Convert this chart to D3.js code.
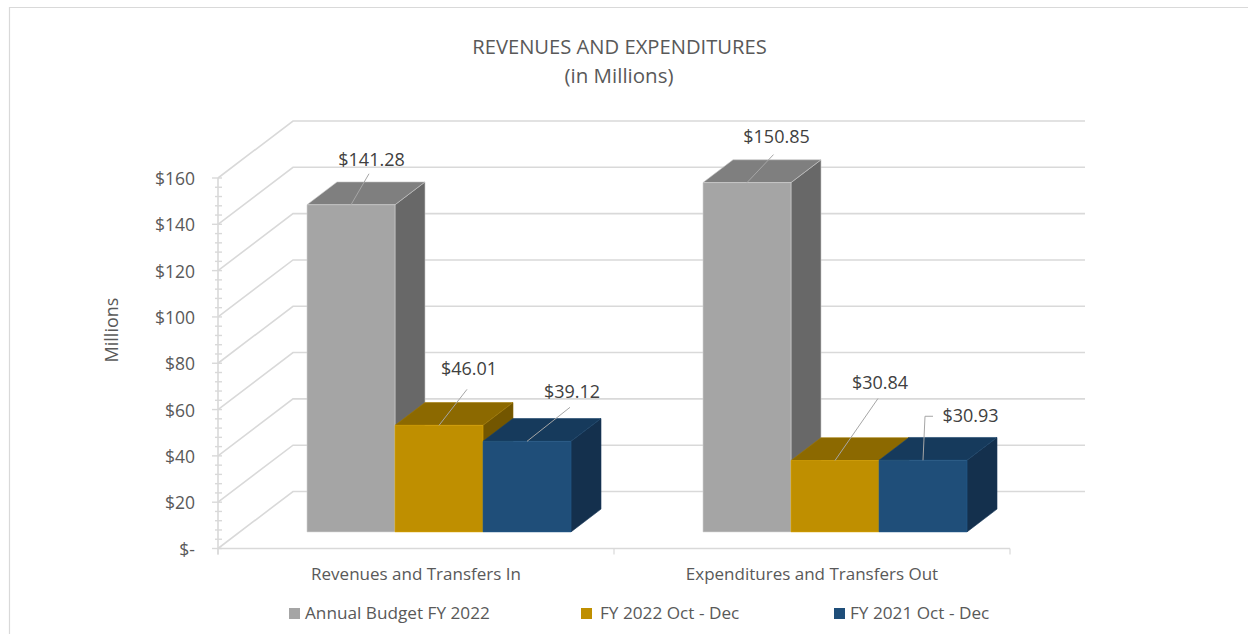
<!DOCTYPE html>
<html>
<head>
<meta charset="utf-8" />
<title>Revenues and Expenditures</title>
<script src="https://d3js.org/d3.v7.min.js"></script>
<style>
	html, body { margin: 0; padding: 0; background: #fff; }
	svg { display: block; }
	text { font-family: "Open Sans", "Noto Sans", sans-serif; fill: #595959; }
</style>
</head>
<body>
<div id="chart"></div>
<script>
const categories = ["Revenues and Transfers In", "Expenditures and Transfers Out"];
const seriesNames = ["Annual Budget FY 2022", "FY 2022 Oct - Dec", "FY 2021 Oct - Dec"];
const annualBudget = [141.28, 150.85];
const fy2022 = [46.01, 30.84];
const fy2021 = [39.12, 30.93];
const yTicks = [0, 20, 40, 60, 80, 100, 120, 140, 160];
const minorStep = 4;

const width = 1248, height = 634;
const svg = d3.select("#chart").append("svg")
	.attr("width", width)
	.attr("height", height)
	.attr("viewBox", "0 0 " + width + " " + height);

const grid = "#d9d9d9";

// outer frame, open at the bottom and right
svg.append("path")
	.attr("d", "M9.5,634V7.5H1248")
	.attr("fill", "none").attr("stroke", grid).attr("stroke-width", 1.2);

// title
svg.append("text").attr("x", 619.5).attr("y", 54).attr("text-anchor", "middle")
	.attr("font-size", 20.2).text("REVENUES AND EXPENDITURES");
svg.append("text").attr("x", 619).attr("y", 83).attr("text-anchor", "middle")
	.attr("font-size", 20.5).text("(in Millions)");

// front plane scales
const y = d3.scaleLinear().domain([0, 160]).range([548.5, 178]);
const x0 = d3.scaleBand().domain(categories).range([218, 1010]);
const x1 = d3.scaleBand().domain(seriesNames).range([0, 264]);
const inset = (x0.bandwidth() - x1.range()[1]) / 2;

// oblique projection for the depth of the chart
const depthX = 75, depthY = -57;
const barFront = 0.3, barBack = 0.7;
const barNudge = 0.5;
const dx = t => depthX * t, dy = t => depthY * t;

// wall and gridlines
svg.append("g").selectAll("path").data(yTicks).enter().append("path")
	.attr("fill", "none").attr("stroke", grid).attr("stroke-width", 1.6)
	.attr("d", d => "M" + x0.range()[0] + "," + y(d)
		+ "L" + (x0.range()[0] + depthX) + "," + (y(d) + depthY)
		+ "H" + (x0.range()[1] + depthX));

// value axis line and ticks
const axisX = x0.range()[0];
const axisG = svg.append("g").attr("stroke", grid);
axisG.append("line").attr("x1", axisX).attr("x2", axisX)
	.attr("y1", y(160)).attr("y2", y(0) + 6).attr("stroke-width", 1.6);
axisG.selectAll(".minor").data(d3.range(0, 160 + minorStep, minorStep)).enter().append("line")
	.attr("x1", d => axisX - (d % 20 === 0 ? 6 : 3))
	.attr("x2", axisX + 4)
	.attr("y1", d => y(d)).attr("y2", d => y(d))
	.attr("stroke-width", 1.4);

// category axis
axisG.append("line").attr("x1", x0.range()[0]).attr("x2", x0.range()[1])
	.attr("y1", y(0)).attr("y2", y(0)).attr("stroke-width", 1.6);
axisG.selectAll(".cat").data([x0.range()[0], x0.range()[0] + x0.step(), x0.range()[1]]).enter().append("line")
	.attr("x1", d => d).attr("x2", d => d)
	.attr("y1", y(0)).attr("y2", y(0) + 6).attr("stroke-width", 1.2);

// axis labels
svg.append("g").selectAll("text").data(yTicks).enter().append("text")
	.attr("x", 195).attr("y", d => y(d) + 7).attr("text-anchor", "end")
	.attr("font-size", 17.5)
	.text(d => d === 0 ? "$-" : "$" + d);
svg.append("g").selectAll("text").data(categories).enter().append("text")
	.attr("x", d => x0(d) + x0.bandwidth() / 2).attr("y", 580).attr("text-anchor", "middle")
	.attr("font-size", 17).text(d => d);
svg.append("text")
	.attr("transform", "translate(118,330) rotate(-90)")
	.attr("text-anchor", "middle").attr("font-size", 18).text("Millions");

// bars
const colors = d3.scaleOrdinal().domain(seriesNames).range(["#a5a5a5", "#bf8f00", "#1f4e79"]);
const topColors = d3.scaleOrdinal().domain(seriesNames).range(["#7f7f7f", "#8c6900", "#163a5c"]);
const sideColors = d3.scaleOrdinal().domain(seriesNames).range(["#686868", "#735600", "#14304d"]);
const seriesValues = [annualBudget, fy2022, fy2021];

const bars = [];
categories.forEach((c, ci) => {
	seriesNames.forEach((s, si) => {
		bars.push({ series: s, category: c, value: seriesValues[si][ci], ci: ci, si: si });
	});
});

function poly(points) {
	return "M" + points.map(p => p.join(",")).join("L") + "Z";
}

const barG = svg.append("g").selectAll("g").data(bars).enter().append("g");
const barLeft = d => x0(d.category) + inset + x1(d.series) + dx(barFront) + barNudge;
const barRight = d => barLeft(d) + x1.bandwidth();
const barBase = y(0) + dy(barFront) + barNudge;
const barTop = d => y(d.value) + dy(barFront) + barNudge;
const ddx = dx(barBack - barFront), ddy = dy(barBack - barFront);

barG.append("path").attr("fill", d => sideColors(d.series))
	.attr("stroke", d => d.si === 0 ? "#c8c8c8" : d3.color(sideColors(d.series)).brighter(0.4)).attr("stroke-width", 0.6)
	.attr("d", d => poly([[barRight(d), barBase], [barRight(d) + ddx, barBase + ddy], [barRight(d) + ddx, barTop(d) + ddy], [barRight(d), barTop(d)]]));
barG.append("path").attr("fill", d => topColors(d.series))
	.attr("stroke", d => d.si === 0 ? "#c8c8c8" : d3.color(topColors(d.series)).brighter(0.4)).attr("stroke-width", 0.6)
	.attr("d", d => poly([[barLeft(d), barTop(d)], [barLeft(d) + ddx, barTop(d) + ddy], [barRight(d) + ddx, barTop(d) + ddy], [barRight(d), barTop(d)]]));
barG.append("path").attr("fill", d => colors(d.series))
	.attr("stroke", d => d.si === 0 ? "#d0d0d0" : d3.color(colors(d.series)).brighter(0.4)).attr("stroke-width", 0.6)
	.attr("d", d => poly([[barLeft(d), barBase], [barLeft(d), barTop(d)], [barRight(d), barTop(d)], [barRight(d), barBase]]));

// data labels with leader lines, offsets are from the centre of the bar's top edge
const labelOffsets = [
	[[20.5, -45], [30, -56], [45, -49]],
	[[29.5, -46], [45, -77], [47.5, -44]]
];
const leaderEnds = [
	[[18, -31], [28, -36], [43, -34]],
	[[26.5, -28], [43, -62], [2, -44]]
];
const labels = svg.append("g").selectAll("g").data(bars).enter().append("g");
labels.append("path").attr("fill", "none").attr("stroke", "#a6a6a6").attr("stroke-width", 1)
	.attr("d", d => {
		const cx = barLeft(d) + x1.bandwidth() / 2, e = leaderEnds[d.ci][d.si];
		let p = "M" + cx + "," + barTop(d) + "L" + (cx + e[0]) + "," + (barTop(d) + e[1]);
		if (d.ci === 1 && d.si === 2) p += "h8";
		return p;
	});
labels.append("text").attr("text-anchor", "middle").attr("font-size", 18)
	.style("fill", "#404040")
	.attr("x", d => barLeft(d) + x1.bandwidth() / 2 + labelOffsets[d.ci][d.si][0])
	.attr("y", d => barTop(d) + labelOffsets[d.ci][d.si][1] + 6)
	.text(d => "$" + d.value.toFixed(2));

// legend
const legendSwatchX = [289, 581, 834];
const legendTextX = [305, 600, 850];
const legend = svg.append("g").selectAll("g").data(seriesNames).enter().append("g");
legend.append("rect").attr("x", (d, i) => legendSwatchX[i]).attr("y", 608)
	.attr("width", 11).attr("height", 11).attr("fill", d => colors(d));
legend.append("text").attr("x", (d, i) => legendTextX[i]).attr("y", 619)
	.attr("font-size", 17.2).text(d => d);
</script>
</body>
</html>
